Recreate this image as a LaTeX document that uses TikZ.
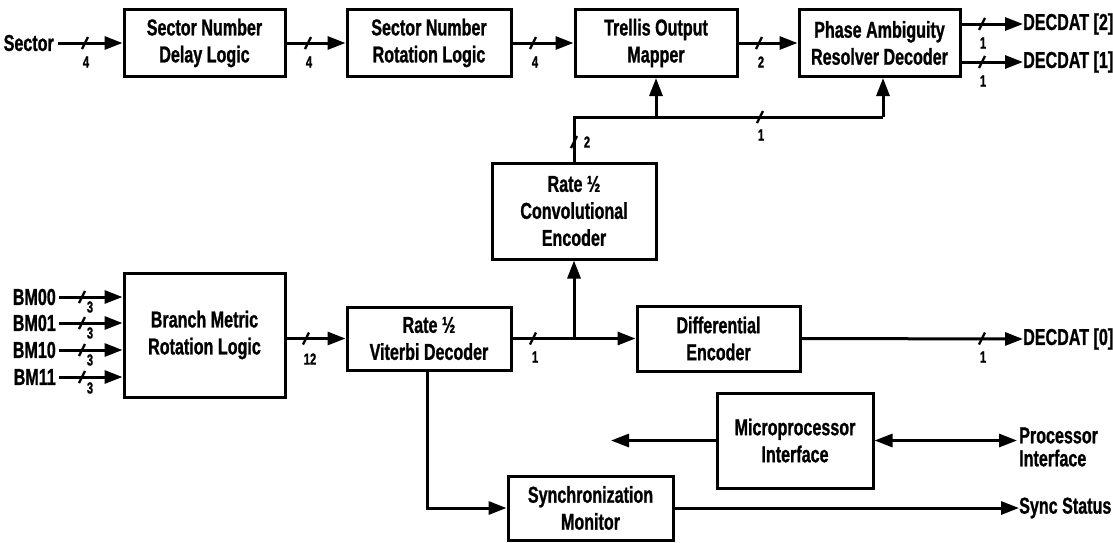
\documentclass[tikz,border=0pt]{standalone}
\usepackage{fontspec}
\setmainfont{Liberation Sans}[FakeStretch=0.70, BoldFeatures={FakeBold=1}]
\usetikzlibrary{arrows.meta,calc}
\begin{document}
\begin{tikzpicture}[x=1pt,y=-1pt,
  blk/.style n args={2}{draw, line width=3pt, minimum width=#1, minimum height=#2,
    inner sep=0pt, align=center, font=\fontsize{23}{27}\bfseries\selectfont},
  txt/.style={inner sep=0pt, font=\fontsize{23}{22}\bfseries\selectfont},
  lbl/.style={inner sep=0pt, font=\fontsize{16}{16}\bfseries\selectfont},
  wire/.style={line width=3pt},
  arr/.style={wire, -{Triangle[length=18pt,width=13pt]}},
  dbl/.style={wire, {Triangle[length=18pt,width=13pt]}-{Triangle[length=18pt,width=13pt]}},
  busmark/.pic={\draw[line width=2.4pt] (-3,6) -- (3,-6);}
]
\useasboundingbox (0,0) rectangle (1113,542);

% blocks
\node[blk={161pt}{67pt}] (b1) at (204.5,43) {Sector Number\\Delay Logic};
\node[blk={164pt}{67pt}] (b2) at (429,43) {Sector Number\\Rotation Logic};
\node[blk={162pt}{67pt}] (b3) at (656,43) {Trellis Output\\Mapper};
\node[blk={161pt}{67pt}] (b4) at (879.5,43) {Phase Ambiguity\\Resolver Decoder};
\node[blk={164pt}{96pt}] (conv) at (574,211) {Rate ½\\Convolutional\\Encoder};
\node[blk={161pt}{124pt}] (bm) at (204.5,335) {Branch Metric\\Rotation Logic};
\node[blk={164pt}{63pt}] (vit) at (429,338.5) {Rate ½\\Viterbi Decoder};
\node[blk={163pt}{65pt}] (diff) at (718.5,338.5) {Differential\\Encoder};
\node[blk={156pt}{95pt}] (micro) at (795,440.5) {Microprocessor\\Interface};
\node[blk={165pt}{64pt}] (sync) at (590.5,508) {Synchronization\\Monitor};

% external texts
\node[txt,anchor=east] (sec) at (54,43) {Sector};
\node[txt,anchor=west] (dec2) at (1023,24) {DECDAT [2]};
\node[txt,anchor=west] (dec1) at (1023,62) {DECDAT [1]};
\node[txt,anchor=west] (dec0) at (1023,339) {DECDAT [0]};
\node[txt,anchor=west] (ss) at (1019,508) {Sync Status};
\node[txt,anchor=west,align=left,font=\fontsize{23}{23}\bfseries\selectfont] (proc) at (1019,447) {Processor\\Interface};
\node[txt,anchor=east] (bm00) at (56,297) {BM00};
\node[txt,anchor=east] (bm01) at (56,323) {BM01};
\node[txt,anchor=east] (bm10) at (56,350) {BM10};
\node[txt,anchor=east] (bm11) at (56,377) {BM11};

% top row
\draw[arr] ([xshift=4pt]sec.east) -- (b1.west);
\pic at (85,43) {busmark}; \node[lbl] (l1) at (86,62) {4};
\draw[arr] (b1.east) -- (b2.west);
\pic at (308,43) {busmark}; \node[lbl] (l2) at (309,62) {4};
\draw[arr] (b2.east) -- (b3.west);
\pic at (533,43) {busmark}; \node[lbl] (l3) at (535,62) {4};
\draw[arr] (b3.east) -- (b4.west);
\pic at (759,43) {busmark}; \node[lbl] (l4) at (761,62) {2};
\draw[arr] (b4.east |- dec2.west) -- (dec2.west);
\pic at (982,24) {busmark}; \node[lbl] (l5) at (983,43) {1};
\draw[arr] (b4.east |- dec1.west) -- (dec1.west);
\pic at (982,62) {busmark}; \node[lbl] (l6) at (983,81) {1};

% feedback
\coordinate (fbl) at (574,117);
\coordinate (fbr) at (883,117);
\draw[wire] (conv.north) -- (fbl) -- (fbr);
\draw[arr] (b3.south |- fbl) -- (b3.south);
\draw[arr] (fbr) -- (fbr |- b4.south);
\pic at (760,117) {busmark}; \node[lbl] (l7) at (761,135) {1};
\pic at (574,142) {busmark}; \node[lbl] (l8) at (587,142) {2};

% branch metric inputs
\draw[arr] ([xshift=3pt]bm00.east) -- (bm.west |- bm00.east);
\draw[arr] ([xshift=3pt]bm01.east) -- (bm.west |- bm01.east);
\draw[arr] ([xshift=3pt]bm10.east) -- (bm.west |- bm10.east);
\draw[arr] ([xshift=3pt]bm11.east) -- (bm.west |- bm11.east);
\pic at (82,297) {busmark}; \node[lbl] (l9) at (90,307) {3};
\pic at (82,323) {busmark}; \node[lbl] (l10) at (90,333) {3};
\pic at (82,350) {busmark}; \node[lbl] (l11) at (90,360) {3};
\pic at (82,377) {busmark}; \node[lbl] (l12) at (90,388) {3};

% middle row
\draw[arr] (bm.east |- vit.west) -- (vit.west);
\pic at (306,338.5) {busmark}; \node[lbl] (l13) at (310,359) {12};
\draw[arr] (vit.east) -- (diff.west);
\pic at (533,338.5) {busmark}; \node[lbl] (l14) at (535,357) {1};
\draw[arr] (conv.south |- vit.east) -- (conv.south);
\draw[arr] (diff.east) -- (dec0.west);
\pic at (982,338.5) {busmark}; \node[lbl] (l15) at (983,357) {1};

% bottom
\coordinate (vd) at (427,0);
\draw[arr] (vd |- vit.south) -- (vd |- sync.west) -- (sync.west);
\draw[arr] (sync.east) -- (ss.west);
\coordinate (mo) at (611,440.5);
\draw[arr] (micro.west) -- (mo);
\draw[dbl] (micro.east) -- ([xshift=-2pt]proc.west |- micro.east);
\end{tikzpicture}
\end{document}
